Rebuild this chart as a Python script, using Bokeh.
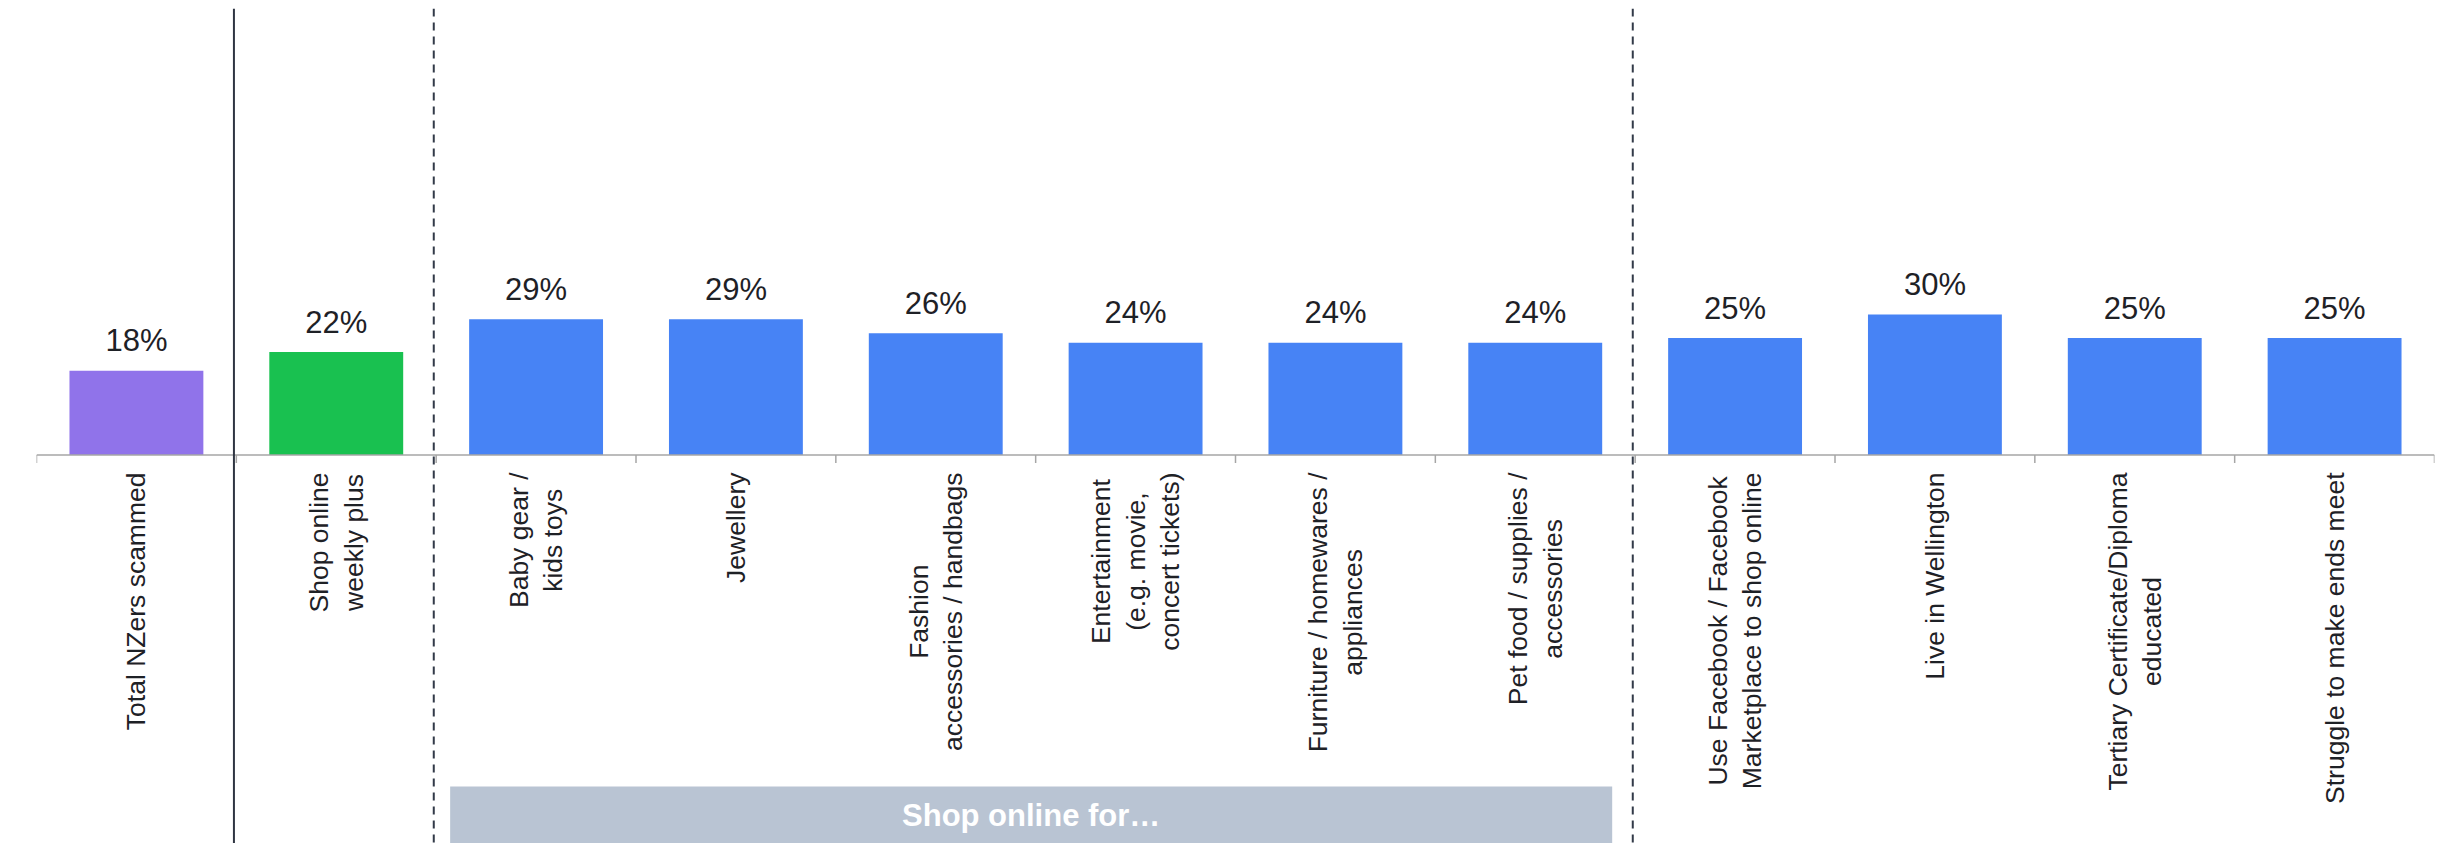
from bokeh.plotting import figure
from bokeh.models import ColumnDataSource, Range1d, Span
from bokeh.core.properties import value
from bokeh.embed import file_html
from bokeh.resources import INLINE
import math

# ---------------- data ----------------
categories = [
    "Total NZers scammed",
    "Shop online\nweekly plus",
    "Baby gear /\nkids toys",
    "Jewellery",
    "Fashion\naccessories / handbags",
    "Entertainment\n(e.g. movie,\nconcert tickets)",
    "Furniture / homewares /\nappliances",
    "Pet food / supplies /\naccessories",
    "Use Facebook / Facebook\nMarketplace to shop online",
    "Live in Wellington",
    "Tertiary Certificate/Diploma\neducated",
    "Struggle to make ends meet",
]
values = [18, 22, 29, 29, 26, 24, 24, 24, 25, 30, 25, 25]
value_labels = [f"{v}%" for v in values]
groups = ["total", "weekly", "for", "for", "for", "for", "for", "for",
          "other", "other", "other", "other"]
group_label = "Shop online for…"

# ---------------- styling / layout ----------------
group_colors = {"total": "#9073EA", "weekly": "#19C150", "for": "#4783F5", "other": "#4783F5"}
W, H = 2450, 843
BORDER_L, BORDER_R, BORDER_T = 36, 16, 8
FRAME_H = H - BORDER_T
PX_PER_PCT = 4.68
BASE_PX = 446.5          # baseline distance from top of frame
Y_END = BASE_PX / PX_PER_PCT
Y_START = -(FRAME_H - BASE_PX) / PX_PER_PCT
n = len(categories)

FONT = "Liberation Sans"
TEXT_COL = "#1e2126"
AXIS_COL = "#a6a6a6"

p = figure(width=W, height=H, output_backend="svg", toolbar_location=None,
           x_axis_type=None, y_axis_type=None,
           x_range=Range1d(-0.5, n - 0.5), y_range=Range1d(Y_START, Y_END),
           min_border_left=BORDER_L, min_border_right=BORDER_R,
           min_border_top=BORDER_T, min_border_bottom=0)
p.grid.visible = False
p.outline_line_color = None
p.background_fill_color = "white"
p.border_fill_color = "white"

xs = list(range(n))
src = ColumnDataSource(dict(
    x=xs, top=values, lab=value_labels, cat=categories,
    color=[group_colors[g] for g in groups],
))

# bars
p.vbar(x="x", top="top", bottom=0, width=0.67, fill_color="color",
       line_color=None, source=src)

# value labels
p.text(x="x", y="top", text="lab", source=src, y_offset=-30,
       text_align="center", text_baseline="alphabetic",
       text_font=value(FONT), text_font_size="31px", text_color=TEXT_COL)

# baseline and ticks
p.add_layout(Span(location=0, dimension="width", line_color=AXIS_COL, line_width=1.5))
bounds = [i - 0.5 for i in range(n + 1)]
tick_len = 8 / PX_PER_PCT
p.segment(x0=bounds, x1=bounds, y0=[0] * len(bounds), y1=[-tick_len] * len(bounds),
          line_color=AXIS_COL, line_width=1.5)

# category labels (rotated)
p.text(x="x", y=0, text="cat", source=src, y_offset=17.5,
       angle=math.pi / 2, anchor="center_right", text_align="center",
       text_baseline="middle", text_line_height=1.15,
       text_font=value(FONT), text_font_size="26.5px", text_color=TEXT_COL)

# separators
shift = 0.012
p.add_layout(Span(location=1 - 0.5 - shift, dimension="height",
                  line_color="#2f3542", line_width=2))
for b in (2, 8):
    p.add_layout(Span(location=b - 0.5 - shift, dimension="height",
                      line_color="#323a48", line_width=2, line_dash="8 6"))

# "Shop online for…" group box
first = groups.index("for")
last = len(groups) - 1 - groups[::-1].index("for")
box_l = first - 0.5 + 0.07
box_r = last + 0.5 - 0.115
box_top = -(786 - BORDER_T - BASE_PX) / PX_PER_PCT
p.quad(left=[box_l], right=[box_r], top=[box_top], bottom=[Y_START],
       fill_color="#B9C4D3", line_color=None)
p.text(x=[(box_l + box_r) / 2], y=[box_top], text=[group_label], y_offset=29,
       text_align="center", text_baseline="alphabetic",
       text_font=value(FONT), text_font_size="31px", text_font_style="bold",
       text_color="white")

open("out.html", "w").write(file_html(p, INLINE))
